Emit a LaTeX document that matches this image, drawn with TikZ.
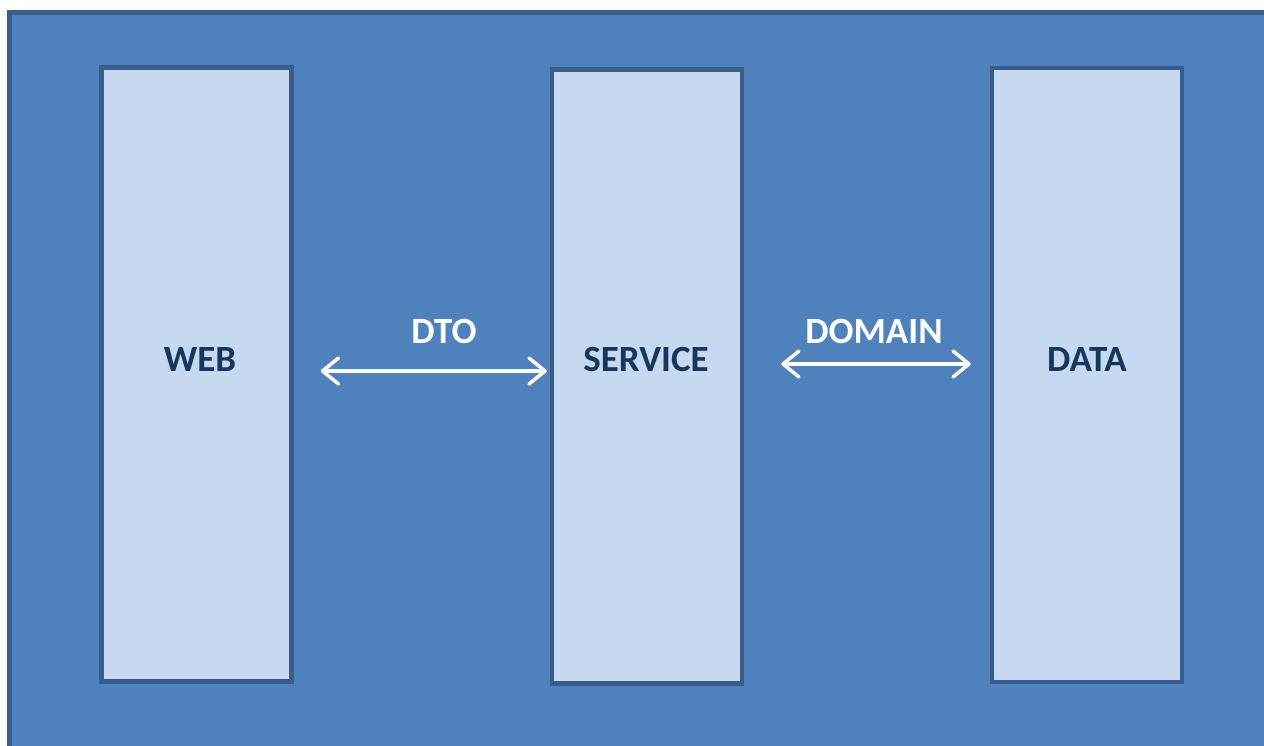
\documentclass[tikz,border=0pt]{standalone}
\usepackage{fontspec}
\setmainfont{Carlito}
\usetikzlibrary{arrows.meta}
\definecolor{outerfill}{HTML}{4F81BD}
\definecolor{boxline}{HTML}{385D8A}
\definecolor{boxfill}{HTML}{C6D9F1}
\definecolor{boxtext}{HTML}{17375E}
\begin{document}
\begin{tikzpicture}[x=1pt,y=1pt,
  layerbox/.style={draw=boxline, fill=boxfill, line width=4.5pt, minimum width=190pt,
    inner sep=0pt},
  boxlabel/.style={text=boxtext, font=\fontsize{37}{40}\selectfont\bfseries, inner sep=0pt},
  conn/.style={draw=white, line width=3.5pt, line cap=round,
    {Straight Barb[length=16pt,width=26pt,line cap=round,line join=round]}-{Straight Barb[length=16pt,width=26pt,line cap=round,line join=round]}},
  lbl/.style={text=white, font=\fontsize{37}{40}\selectfont\bfseries, inner sep=0pt}]
\useasboundingbox (0,0) rectangle (1264,-745);
\clip (0,0) rectangle (1264,-745);
\fill[white] (0,0) rectangle (1264,-745);
\draw[draw=boxline, fill=outerfill, line width=5pt] (9.5,-12.5) rectangle (1290,-770);
\node[layerbox, minimum height=614pt] (web) at (196.5,-374.5) {};
\node[layerbox, minimum height=614pt] (service) at (647,-376.5) {};
\node[layerbox, minimum height=614pt] (data) at (1087,-375) {};
\node[boxlabel] (webt) at (200,-359) {WEB};
\node[boxlabel] (servicet) at (646,-359) {SERVICE};
\node[boxlabel] (datat) at (1087,-359) {DATA};
\draw[conn, shorten <=27pt, shorten >=3pt] ([yshift=3.5pt]web.east) -- ([yshift=5.5pt]service.west);
\draw[conn, shorten <=37pt, shorten >=19pt] ([yshift=12.5pt]service.east) -- ([yshift=11pt]data.west);
\node[lbl] (dto) at (444,-331) {DTO};
\node[lbl] (domain) at (874,-331) {DOMAIN};
\end{tikzpicture}
\end{document}
